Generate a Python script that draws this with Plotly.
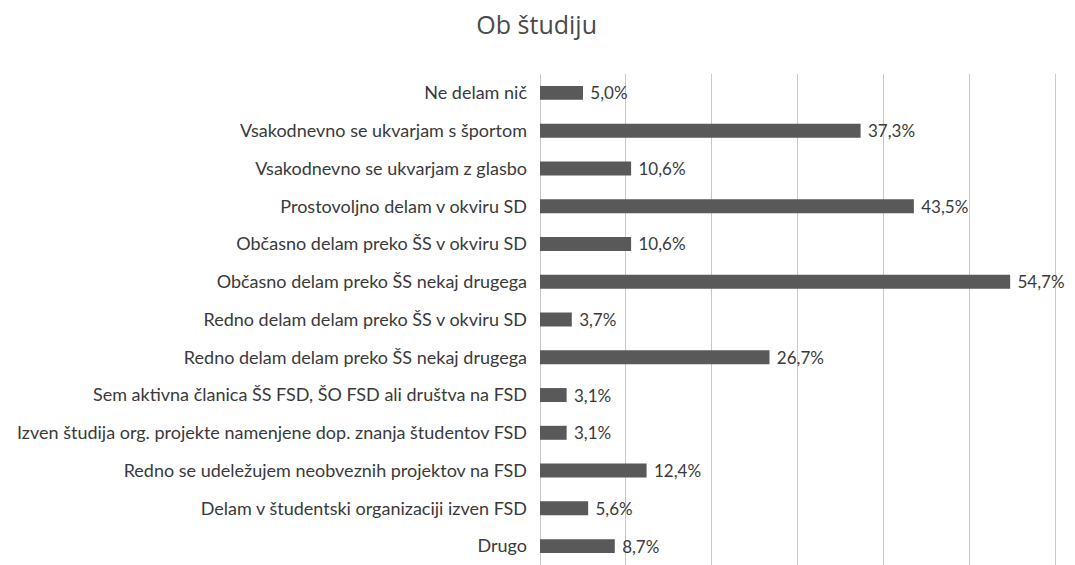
import plotly.graph_objects as go

categories = [
    "Ne delam nič",
    "Vsakodnevno se ukvarjam s športom",
    "Vsakodnevno se ukvarjam z glasbo",
    "Prostovoljno delam v okviru SD",
    "Občasno delam preko ŠS v okviru SD",
    "Občasno delam preko ŠS nekaj drugega",
    "Redno delam delam preko ŠS v okviru SD",
    "Redno delam delam preko ŠS nekaj drugega",
    "Sem aktivna članica ŠS FSD, ŠO FSD ali društva na FSD",
    "Izven študija org. projekte namenjene dop. znanja študentov FSD",
    "Redno se udeležujem neobveznih projektov na FSD",
    "Delam v študentski organizaciji izven FSD",
    "Drugo",
]
values = [5.0, 37.3, 10.6, 43.5, 10.6, 54.7, 3.7, 26.7, 3.1, 3.1, 12.4, 5.6, 8.7]
value_labels = ["\u00a0" + f"{v:.1f}".replace(".", ",") + "%" for v in values]
title_text = "Ob študiju"

fig = go.Figure(
    go.Bar(
        x=values,
        y=categories,
        orientation="h",
        marker=dict(color="#595959", line=dict(width=0)),
        width=0.37,
        text=value_labels,
        textposition="outside",
        constraintext="none",
        cliponaxis=False,
        textfont=dict(family="Lato, sans-serif", size=17, color="#3a3a3a"),
        hoverinfo="skip",
    )
)

fig.update_layout(
    width=1067,
    height=557,
    autosize=False,
    margin=dict(l=532, r=15, t=66, b=0, autoexpand=False),
    paper_bgcolor="white",
    plot_bgcolor="white",
    showlegend=False,
    title=dict(
        text=title_text,
        x=0.4955,
        xanchor="center",
        y=0.9695,
        yanchor="middle",
        font=dict(family="Open Sans, sans-serif", size=25, color="#4a4a4a"),
    ),
    xaxis=dict(
        range=[0, 60.5],
        tick0=0,
        dtick=10,
        showticklabels=False,
        showgrid=True,
        gridcolor="#c9c9c9",
        gridwidth=1.3,
        zeroline=True,
        zerolinecolor="#c9c9c9",
        zerolinewidth=1.3,
        showline=False,
        fixedrange=True,
        automargin=False,
    ),
    yaxis=dict(
        autorange="reversed",
        showgrid=False,
        showline=False,
        ticks="",
        ticklabelstandoff=12,
        tickfont=dict(family="Lato, sans-serif", size=18, color="#3a3a3a"),
        fixedrange=True,
        automargin=False,
    ),
)

fig.write_html("out.html")
